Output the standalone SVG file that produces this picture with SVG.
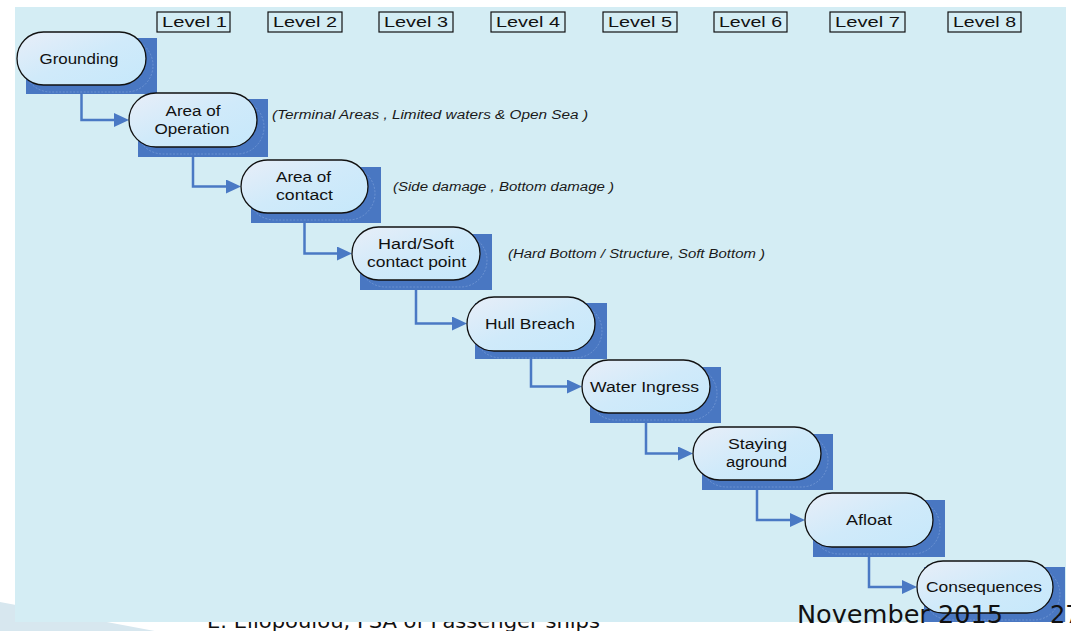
<svg xmlns="http://www.w3.org/2000/svg" width="1071" height="631" viewBox="0 0 1071 631">
  <defs>
    <linearGradient id="pillFill" x1="0" y1="0" x2="1" y2="1">
      <stop offset="0" stop-color="#E8EEF8"/>
      <stop offset="0.5" stop-color="#D0EAFA"/>
      <stop offset="1" stop-color="#C6E8FB"/>
    </linearGradient>
    <marker id="arrow" markerUnits="userSpaceOnUse" viewBox="0 0 15 14" markerWidth="15" markerHeight="14" refX="7" refY="7" orient="auto">
      <path d="M0,0 L15,7 L0,14 Z" fill="#4A79C4"/>
    </marker>
    <style>
      .shadow { fill: #4977C2; }
      .ghost { fill: none; stroke: #A9C2EA; stroke-width: 0.7; stroke-dasharray: 2 1.5; opacity: 0.5; }
      .pill { fill: url(#pillFill); stroke: #111; stroke-width: 1.3; }
      .lbl { font-family: "Liberation Sans", Arial, sans-serif; font-size: 15.5px; fill: #111; text-anchor: middle; }
      .level rect { fill: none; stroke: #111; stroke-width: 1.2; }
      .level text { font-family: "Liberation Sans", Arial, sans-serif; font-size: 15.5px; fill: #111; }
      .note { font-family: "Liberation Sans", Arial, sans-serif; font-size: 12.5px; font-style: italic; fill: #1A1A1A; }
      .conn { fill: none; stroke: #4A79C4; stroke-width: 2.5; marker-end: url(#arrow); }
      .footer { font-family: "DejaVu Sans", "Open Sans", sans-serif; fill: #111; }
    </style>
  </defs>

  <!-- page background -->
  <rect x="0" y="0" width="1071" height="631" fill="#FFFFFF"/>
  <polygon points="0,602 160,632 0,632" fill="#D7E7EF"/>

  <!-- author line, partly covered by the diagram panel -->
  <text class="footer" x="207" y="628" font-size="20" textLength="393" lengthAdjust="spacingAndGlyphs">E. Eliopoulou, FSA of Passenger ships</text>

  <!-- diagram panel -->
  <rect x="15" y="7" width="1051" height="615" fill="#D4EDF4"/>

  <!-- level headers -->
  <g id="levels" class="level">
    <g id="level1"><rect x="157" y="12" width="73" height="20"/><text x="162" y="27" textLength="65" lengthAdjust="spacingAndGlyphs">Level  1</text></g>
    <g id="level2"><rect x="268" y="12" width="74" height="20"/><text x="273" y="27" textLength="64" lengthAdjust="spacingAndGlyphs">Level  2</text></g>
    <g id="level3"><rect x="379" y="12" width="74" height="20"/><text x="384" y="27" textLength="64" lengthAdjust="spacingAndGlyphs">Level  3</text></g>
    <g id="level4"><rect x="491" y="12" width="74" height="20"/><text x="496" y="27" textLength="64" lengthAdjust="spacingAndGlyphs">Level  4</text></g>
    <g id="level5"><rect x="603" y="12" width="74" height="20"/><text x="608" y="27" textLength="64" lengthAdjust="spacingAndGlyphs">Level  5</text></g>
    <g id="level6"><rect x="714" y="12" width="73" height="20"/><text x="719" y="27" textLength="63" lengthAdjust="spacingAndGlyphs">Level  6</text></g>
    <g id="level7"><rect x="830" y="12" width="75" height="20"/><text x="835" y="27" textLength="65" lengthAdjust="spacingAndGlyphs">Level  7</text></g>
    <g id="level8"><rect x="948" y="12" width="73" height="20"/><text x="953" y="27" textLength="63" lengthAdjust="spacingAndGlyphs">Level  8</text></g>
  </g>

  <!-- annotations -->
  <g id="notes">
    <text class="note" x="272" y="118.5" textLength="316" lengthAdjust="spacingAndGlyphs">(Terminal Areas , Limited waters  &amp; Open Sea )</text>
    <text class="note" x="393" y="191" textLength="221" lengthAdjust="spacingAndGlyphs">(Side damage , Bottom damage )</text>
    <text class="note" x="508" y="258" textLength="257" lengthAdjust="spacingAndGlyphs">(Hard Bottom / Structure, Soft Bottom )</text>
  </g>

  <!-- connectors -->
  <g id="connectors">
    <path class="conn" d="M81.5,85 V120 H121"/>
    <path class="conn" d="M193,147 V186.5 H233"/>
    <path class="conn" d="M304.5,213 V253.5 H344"/>
    <path class="conn" d="M416,280 V323.5 H459"/>
    <path class="conn" d="M531,351 V386.5 H574"/>
    <path class="conn" d="M646,413 V453.5 H685"/>
    <path class="conn" d="M757,480 V520 H797"/>
    <path class="conn" d="M869,547 V587 H909"/>
  </g>

  <!-- nodes -->
  <g id="node-grounding">
    <rect class="shadow" x="26" y="38" width="131" height="56"/>
    <rect class="ghost" x="24" y="39" width="129" height="53" rx="26.5"/>
    <rect class="pill" x="17" y="32" width="129" height="53" rx="26.5"/>
    <text class="lbl" x="79" y="64" textLength="79" lengthAdjust="spacingAndGlyphs">Grounding</text>
  </g>

  <g id="node-area-operation">
    <rect class="shadow" x="138" y="99" width="130" height="58"/>
    <rect class="ghost" x="136" y="100" width="128" height="54" rx="27"/>
    <rect class="pill" x="129" y="93" width="128" height="54" rx="27"/>
    <text class="lbl" x="193" y="116" textLength="55" lengthAdjust="spacingAndGlyphs">Area of</text>
    <text class="lbl" x="192" y="134" textLength="75" lengthAdjust="spacingAndGlyphs">Operation</text>
  </g>

  <g id="node-area-contact">
    <rect class="shadow" x="251" y="167" width="130" height="56"/>
    <rect class="ghost" x="248" y="167" width="127" height="53" rx="26.5"/>
    <rect class="pill" x="241" y="160" width="127" height="53" rx="26.5"/>
    <text class="lbl" x="303.5" y="182" textLength="55" lengthAdjust="spacingAndGlyphs">Area of</text>
    <text class="lbl" x="304.5" y="200" textLength="57" lengthAdjust="spacingAndGlyphs">contact</text>
  </g>

  <g id="node-hard-soft">
    <rect class="shadow" x="360" y="234" width="132" height="56"/>
    <rect class="ghost" x="359" y="234" width="128" height="53" rx="26.5"/>
    <rect class="pill" x="352" y="227" width="128" height="53" rx="26.5"/>
    <text class="lbl" x="416" y="249" textLength="76" lengthAdjust="spacingAndGlyphs">Hard/Soft</text>
    <text class="lbl" x="416.5" y="267" textLength="99" lengthAdjust="spacingAndGlyphs">contact point</text>
  </g>

  <g id="node-hull-breach">
    <rect class="shadow" x="475" y="303" width="132" height="56"/>
    <rect class="ghost" x="474" y="304" width="128" height="54" rx="27"/>
    <rect class="pill" x="467" y="297" width="128" height="54" rx="27"/>
    <text class="lbl" x="530" y="329" textLength="90" lengthAdjust="spacingAndGlyphs">Hull Breach</text>
  </g>

  <g id="node-water-ingress">
    <rect class="shadow" x="590" y="367" width="131" height="56"/>
    <rect class="ghost" x="589" y="367" width="128" height="53" rx="26.5"/>
    <rect class="pill" x="582" y="360" width="128" height="53" rx="26.5"/>
    <text class="lbl" x="644.5" y="391.5" textLength="109" lengthAdjust="spacingAndGlyphs">Water Ingress</text>
  </g>

  <g id="node-staying-aground">
    <rect class="shadow" x="702" y="434" width="131" height="56"/>
    <rect class="ghost" x="700" y="434" width="128" height="53" rx="26.5"/>
    <rect class="pill" x="693" y="427" width="128" height="53" rx="26.5"/>
    <text class="lbl" x="757.5" y="449" textLength="59" lengthAdjust="spacingAndGlyphs">Staying</text>
    <text class="lbl" x="756.5" y="467" textLength="61" lengthAdjust="spacingAndGlyphs">aground</text>
  </g>

  <g id="node-afloat">
    <rect class="shadow" x="813" y="500" width="132" height="57"/>
    <rect class="ghost" x="812" y="500" width="128" height="54" rx="27"/>
    <rect class="pill" x="805" y="493" width="128" height="54" rx="27"/>
    <text class="lbl" x="869" y="525" textLength="46" lengthAdjust="spacingAndGlyphs">Afloat</text>
  </g>

  <g id="node-consequences">
    <rect class="shadow" x="924" y="567" width="141" height="55"/>
    <rect class="ghost" x="924" y="568" width="136" height="52" rx="26"/>
    <rect class="pill" x="917" y="561" width="136" height="52" rx="26"/>
    <text class="lbl" x="984" y="592" font-size="14.5" textLength="116" lengthAdjust="spacingAndGlyphs">Consequences</text>
  </g>

  <!-- date and page number (page number runs off the right edge) -->
  <text class="footer" x="797" y="623" font-size="24" textLength="206" lengthAdjust="spacingAndGlyphs">November 2015</text>
  <text class="footer" x="1050" y="623" font-size="24">27</text>
</svg>
